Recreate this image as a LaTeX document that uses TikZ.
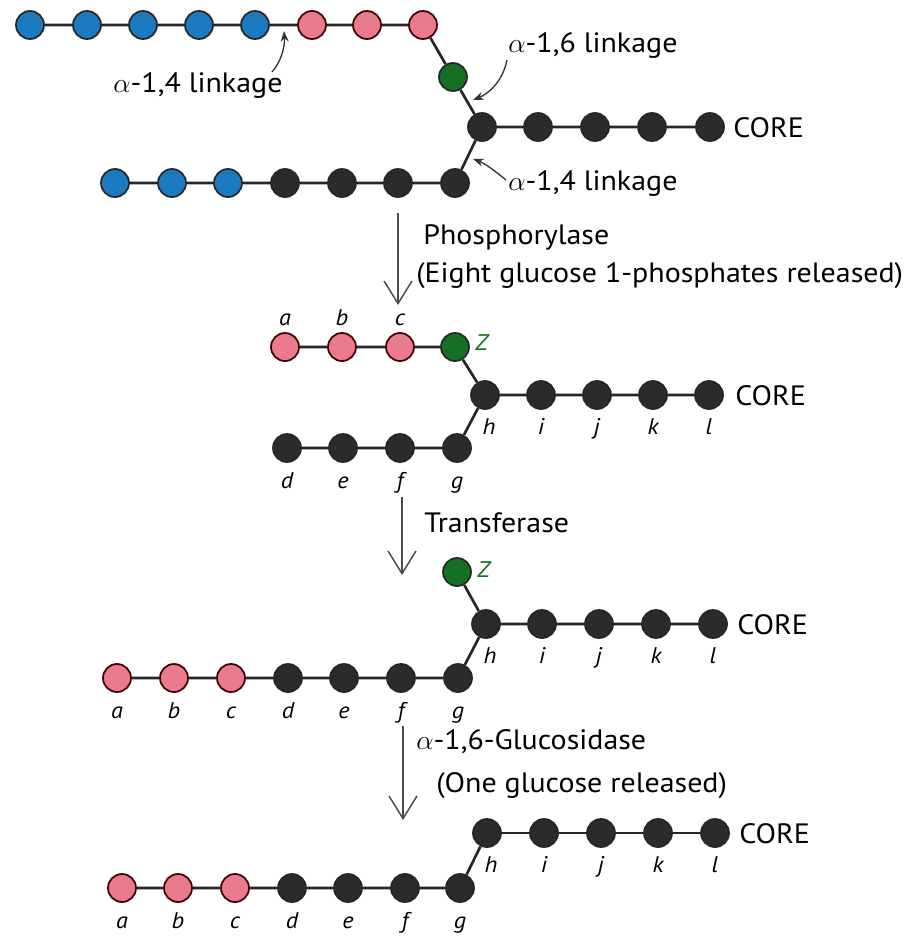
\documentclass[tikz,border=0pt]{standalone}
\usepackage{fontspec}
\setmainfont{PT Sans}[FakeStretch=1.07]
\usetikzlibrary{arrows.meta}
\definecolor{gblue}{RGB}{28,122,190}
\definecolor{gpink}{RGB}{234,122,142}
\definecolor{ggreen}{RGB}{22,112,36}
\definecolor{gblack}{RGB}{44,42,42}
\begin{document}
\begin{tikzpicture}[x=0.75pt,y=-0.75pt,
  glu/.style={circle,draw=black!85,line width=1.3pt,minimum size=21pt,inner sep=0pt},
  bglu/.style={glu,fill=gblue},
  pglu/.style={glu,fill=gpink,draw=black!75!red},
  gglu/.style={glu,fill=ggreen},
  kglu/.style={glu,fill=gblack},
  bond/.style={line width=2pt,draw=black!85},
  lab/.style={font=\fontsize{17}{17}\selectfont\itshape,inner sep=0pt,anchor=base},
  zlab/.style={lab,anchor=base west,text=ggreen},
  txt/.style={font=\fontsize{21}{21}\selectfont,inner sep=0pt,anchor=base west},
  react/.style={draw=black!70,line width=1.1pt,-{Straight Barb[length=17pt,width=21pt,line width=1.1pt]}},
  link/.style={draw=black!80,line width=1pt,-{Stealth[length=8pt,width=6pt]}}
]
\useasboundingbox (0,0) rectangle (920,936);

% ---------------- Row 1 ----------------
\foreach \x [count=\i] in {30,87,143,199,255} \node[bglu] (ta\i) at (\x,25) {};
\foreach \x [count=\i] in {312,367,423} \node[pglu] (tp\i) at (\x,25) {};
\node[gglu] (tz) at (453,77) {};
\foreach \x [count=\i] in {482,538,595,652,710} \node[kglu] (tc\i) at (\x,127) {};
\foreach \x [count=\i] in {115,172,228} \node[bglu] (tb\i) at (\x,183) {};
\foreach \x [count=\i] in {285,342,398,455} \node[kglu] (tk\i) at (\x,183) {};
\draw[bond] (ta1)--(ta2)--(ta3)--(ta4)--(ta5)--(tp1)--(tp2)--(tp3)--(tz)--(tc1)--(tc2)--(tc3)--(tc4)--(tc5);
\draw[bond] (tb1)--(tb2)--(tb3)--(tk1)--(tk2)--(tk3)--(tk4)--(tc1);
\node[txt] (core1) at (733,137) {CORE};
\node[txt] (l14a) at (113,92) {$\alpha$-1,4 linkage};
\node[txt] (l16) at (508,52) {$\alpha$-1,6 linkage};
\node[txt] (l14b) at (508,190) {$\alpha$-1,4 linkage};
\coordinate (k1s) at (272,72); \coordinate (k1e) at (284,31);
\coordinate (k2s) at (507,60); \coordinate (k2e) at (473,100);
\coordinate (k3s) at (506,180); \coordinate (k3e) at (473,159);
\draw[link] (k1s) .. controls (281,62) and (285,47) .. (k1e);
\draw[link] (k2s) .. controls (503,80) and (490,93) .. (k2e);
\draw[link] (k3s) .. controls (494,170) and (484,163) .. (k3e);

% ---------------- arrow 1 ----------------
\coordinate (a1s) at (398,213); \coordinate (a1e) at (398,305);
\draw[react] (a1s) -- (a1e);
\node[txt] (t1) at (423,244) {Phosphorylase};
\node[txt] (t2) at (416,282) {(Eight glucose 1-phosphates released)};

% ---------------- Row 2 ----------------
\foreach \x/\n [count=\i] in {285/a,342/b,400/c} {
  \node[pglu] (sp\i) at (\x,347) {};
  \node[lab] at (\x,325) {\n};
}
\node[gglu] (sz) at (455,347) {};
\node[zlab] at (475,350) {Z};
\foreach \x/\n [count=\i] in {485/h,541/i,597/j,653/k,709/l} {
  \node[kglu] (sc\i) at (\x,395) {};
}
\foreach \x/\n [count=\i] in {489/h,541/i,597/j,653/k,709/l} \node[lab] at (\x,434) {\n};
\foreach \x/\n [count=\i] in {287/d,343/e,400/f,457/g} {
  \node[kglu] (sk\i) at (\x,448) {};
  \node[lab] at (\x,488) {\n};
}
\draw[bond] (sp1)--(sp2)--(sp3)--(sz)--(sc1)--(sc2)--(sc3)--(sc4)--(sc5);
\draw[bond] (sk1)--(sk2)--(sk3)--(sk4)--(sc1);
\node[txt] (core2) at (735,405) {CORE};

% ---------------- arrow 2 ----------------
\coordinate (a2s) at (402,497); \coordinate (a2e) at (402,575);
\draw[react] (a2s) -- (a2e);
\node[txt] (t3) at (424,532) {Transferase};

% ---------------- Row 3 ----------------
\node[gglu] (uz) at (457,572) {};
\node[zlab] at (477,577) {Z};
\foreach \x [count=\i] in {486,542,599,656,713} \node[kglu] (uc\i) at (\x,624) {};
\foreach \x/\n in {490/h,542/i,599/j,656/k,713/l} \node[lab] at (\x,663) {\n};
\foreach \x/\n [count=\i] in {117/a,174/b,231/c} {
  \node[pglu] (up\i) at (\x,678) {};
  \node[lab] at (\x,718) {\n};
}
\foreach \x/\n [count=\i] in {288/d,344/e,401/f,458/g} {
  \node[kglu] (uk\i) at (\x,678) {};
  \node[lab] at (\x,718) {\n};
}
\draw[bond] (uz)--(uc1)--(uc2)--(uc3)--(uc4)--(uc5);
\draw[bond] (up1)--(up2)--(up3)--(uk1)--(uk2)--(uk3)--(uk4)--(uc1);
\node[txt] (core3) at (737,634) {CORE};

% ---------------- arrow 3 ----------------
\coordinate (a3s) at (403,726); \coordinate (a3e) at (403,820);
\draw[react] (a3s) -- (a3e);
\node[txt] (t4) at (416,749) {$\alpha$-1,6-Glucosidase};
\node[txt] (t5) at (436,792) {(One glucose released)};

% ---------------- Row 4 ----------------
\foreach \x [count=\i] in {487,544,601,658,715} \node[kglu] (vc\i) at (\x,833) {};
\foreach \x/\n in {491/h,544/i,601/j,658/k,715/l} \node[lab] at (\x,872) {\n};
\foreach \x/\n [count=\i] in {122/a,178/b,235/c} {
  \node[pglu] (vp\i) at (\x,888) {};
  \node[lab] at (\x,928) {\n};
}
\foreach \x/\n [count=\i] in {292/d,348/e,405/f,460/g} {
  \node[kglu] (vk\i) at (\x,888) {};
  \node[lab] at (\x,928) {\n};
}
\draw[bond] (vc1)--(vc2)--(vc3)--(vc4)--(vc5);
\draw[bond] (vp1)--(vp2)--(vp3)--(vk1)--(vk2)--(vk3)--(vk4)--(vc1);
\node[txt] (core4) at (739,843) {CORE};
\end{tikzpicture}
\end{document}
